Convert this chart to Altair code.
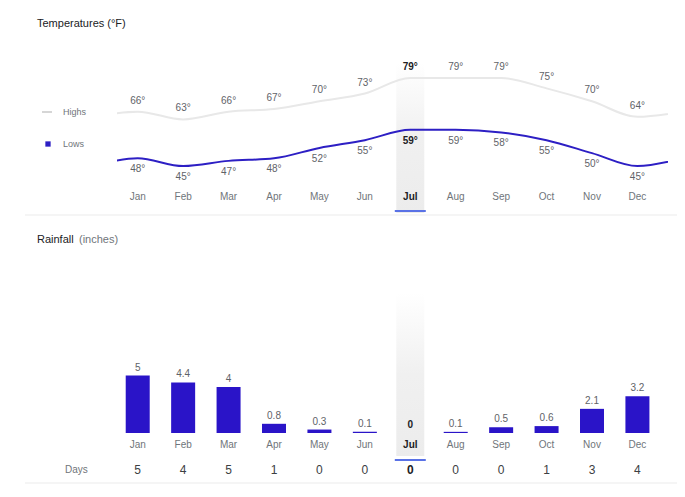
import altair as alt
import pandas as pd

months = ["Jan", "Feb", "Mar", "Apr", "May", "Jun", "Jul", "Aug", "Sep", "Oct", "Nov", "Dec"]
highs = [66, 63, 66, 67, 70, 73, 79, 79, 79, 75, 70, 64]
lows = [48, 45, 47, 48, 52, 55, 59, 59, 58, 55, 50, 45]
rain = [5, 4.4, 4, 0.8, 0.3, 0.1, 0, 0.1, 0.5, 0.6, 2.1, 3.2]
rain_days = [5, 4, 5, 1, 0, 0, 0, 0, 0, 1, 3, 4]
highlight = "Jul"

df = pd.DataFrame({
    "idx": list(range(12)),
    "month": months,
    "high": highs,
    "low": lows,
    "rain": rain,
    "days": rain_days,
    "hl": [m == highlight for m in months],
})
df["high_lbl"] = [f"{v}°" for v in highs]
df["low_lbl"] = [f"{v}°" for v in lows]
df["rain_lbl"] = [f"{v:g}" for v in rain]
df["days_lbl"] = [str(v) for v in rain_days]

# line data wraps around (previous Dec / next Jan) so the curves run off the edges
line_df = pd.DataFrame({
    "idx": [-1] + list(range(12)) + [12],
    "high": [highs[-1]] + highs + [highs[0]],
    "low": [lows[-1]] + lows + [lows[0]],
})

FONT = "Liberation Sans"
W, H = 551, 481
xs = alt.Scale(domain=[-0.346, 11.563], nice=False, zero=False)
ts = alt.Scale(domain=[-79.7, 106.03], nice=False, zero=False)
rs = alt.Scale(domain=[-4.87, 36.96], nice=False, zero=False)

X = alt.X("idx:Q", scale=xs, axis=None)
base = alt.Chart(df)


def label_row(field, y, size, color, dy=0, yfield=None, yscale=None, hl_color="#202124"):
    layers = []
    for is_hl in (False, True):
        enc = dict(x=X, text=f"{field}:N")
        if yfield is None:
            enc["y"] = alt.value(y)
        else:
            enc["y"] = alt.Y(f"{yfield}:Q", scale=yscale, axis=None)
        layers.append(
            base.transform_filter("datum.hl" if is_hl else "!datum.hl")
            .mark_text(font=FONT, fontSize=size, dy=dy,
                       color=hl_color if is_hl else color,
                       fontWeight="bold" if is_hl else "normal")
            .encode(**enc)
        )
    return layers


grad = alt.LinearGradient(
    gradient="linear",
    stops=[alt.GradientStop(color="#ffffff", offset=0),
           alt.GradientStop(color="#f0f0f0", offset=0.5),
           alt.GradientStop(color="#ececec", offset=1)],
    x1=0, x2=0, y1=0, y2=1,
)

band_top = base.transform_filter("datum.hl").mark_bar(size=28, color=grad).encode(
    x=X, y=alt.value(55), y2=alt.value(205))
band_bot = base.transform_filter("datum.hl").mark_bar(size=28, color=grad).encode(
    x=X, y=alt.value(285), y2=alt.value(448))

under_top = base.transform_filter("datum.hl").mark_bar(size=31, color="#5a72e6").encode(
    x=X, y=alt.value(202), y2=alt.value(204))
under_bot = base.transform_filter("datum.hl").mark_bar(size=31, color="#5a72e6").encode(
    x=X, y=alt.value(451), y2=alt.value(453))

sep_top = alt.Chart(pd.DataFrame({"k": ["top"]})).mark_rule(color="#f5f5f5", strokeWidth=2).encode(
    x=alt.value(-92), x2=alt.value(560), y=alt.value(207))
sep_bot = alt.Chart(pd.DataFrame({"k": ["bottom"]})).mark_rule(color="#f5f5f5", strokeWidth=2).encode(
    x=alt.value(-92), x2=alt.value(560), y=alt.value(475))

high_line = alt.Chart(line_df).mark_line(color="#e8e8e8", strokeWidth=2, interpolate="monotone", clip=True).encode(
    x=X, y=alt.Y("high:Q", scale=ts, axis=None))
low_line = alt.Chart(line_df).mark_line(color="#2d1fc4", strokeWidth=2, interpolate="monotone", clip=True).encode(
    x=X, y=alt.Y("low:Q", scale=ts, axis=None))

bars = base.mark_bar(size=24, color="#2a14c8").encode(
    x=X, y=alt.Y("rain:Q", scale=rs, axis=None))


def static_text(t, x, y, size, color, weight="normal", align="left"):
    return alt.Chart(pd.DataFrame({"t": [t]})).mark_text(
        font=FONT, fontSize=size, color=color, fontWeight=weight, align=align, baseline="middle"
    ).encode(x=alt.value(x), y=alt.value(y), text="t:N")


titles = [
    static_text("Temperatures (°F)", -80, 16, 11, "#202124"),
    static_text("Rainfall", -80, 232, 11, "#202124"),
    static_text("(inches)", -38, 232, 11, "#70757a"),
    static_text("Highs", -54, 104, 9, "#70757a"),
    static_text("Lows", -54, 136, 9, "#70757a"),
    static_text("Days", -52, 462, 10, "#70757a"),
]
legend_high = alt.Chart(pd.DataFrame({"k": ["Highs"]})).mark_rule(color="#d6d6d6", strokeWidth=2).encode(
    x=alt.value(-75), x2=alt.value(-65), y=alt.value(104))
legend_low = alt.Chart(pd.DataFrame({"k": ["Lows"]})).mark_square(color="#2d1fc4", size=28, opacity=1).encode(
    x=alt.value(-69), y=alt.value(136))

layers = [band_top, band_bot, sep_top, sep_bot, under_top, under_bot, high_line, low_line, bars]
layers += label_row("high_lbl", None, 10, "#5f6368", dy=-11, yfield="high", yscale=ts)
layers += label_row("low_lbl", None, 10, "#5f6368", dy=11, yfield="low", yscale=ts)
layers += label_row("month", 189, 10, "#70757a")
layers += label_row("rain_lbl", None, 10, "#5f6368", dy=-8, yfield="rain", yscale=rs)
layers += label_row("month", 437, 10, "#70757a")
layers += label_row("days_lbl", 462, 12, "#3c4043")
layers += titles + [legend_high, legend_low]

chart = alt.layer(*layers).resolve_scale(y="independent").properties(
    width=W, height=H,
    autosize=alt.AutoSizeParams(type="none"),
    padding={"left": 109, "top": 0, "right": 9, "bottom": 0},
    background="white",
).configure_view(stroke=None)

chart.save("out.html", embed_options={"renderer": "svg", "actions": False})
